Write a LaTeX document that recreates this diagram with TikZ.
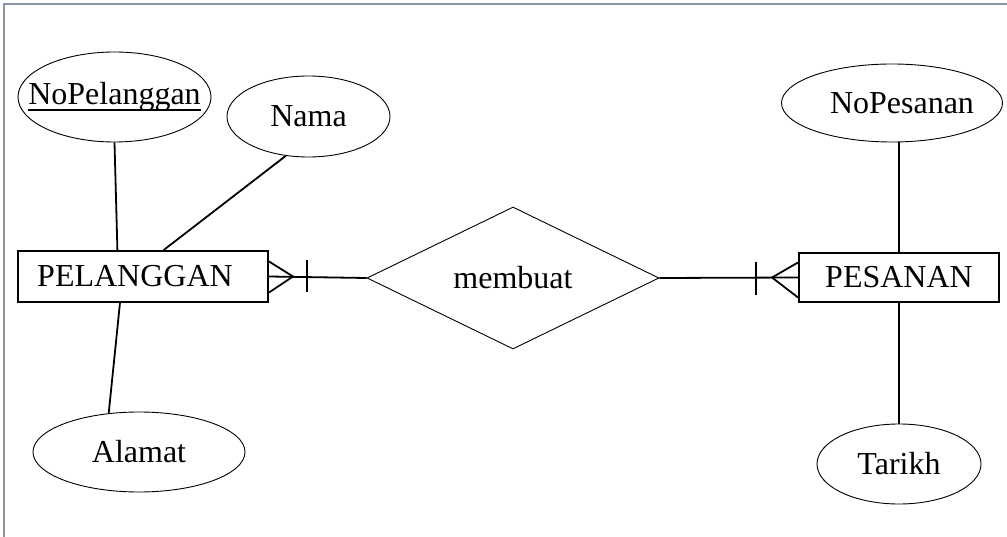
\documentclass[tikz,border=0pt]{standalone}
\usepackage{fontspec}
\setmainfont{Liberation Serif}
\usetikzlibrary{shapes.geometric}
\definecolor{framegray}{RGB}{140,150,163}
\newcommand{\ztext}[1]{\makebox[0pt]{#1}}
\tikzset{
  every node/.style={font=\fontsize{32}{38}\selectfont},
  attr/.style={ellipse, draw, line width=0.9pt, inner sep=0pt},
  entity/.style={rectangle, draw, line width=2pt, inner sep=0pt},
  rel/.style={diamond, draw, line width=0.9pt, inner sep=0pt, minimum width=292pt, minimum height=142pt},
  conn/.style={line width=1.8pt},
}
\begin{document}
\begin{tikzpicture}[x=1pt,y=-1pt]
\useasboundingbox (0,0) rectangle (1007,537);
\draw[framegray, line width=1.5pt] (4,537) -- (4,4) -- (1007,4);

% entities and relationship
\node[entity, minimum width=250pt, minimum height=51pt] (pel) at (143,276.5) {PELANGGAN\hspace*{16pt}};
\node[entity, minimum width=200pt, minimum height=49pt] (pes) at (899,277.5) {PESANAN};
\node[rel] (rel) at (513,278) {\ztext{membuat}};

% attributes
\node[attr, minimum width=193pt, minimum height=90pt] (nopel) at (114.5,97)
  {\ztext{\setbox0\hbox{NoPelanggan}\rlap{\rule[-6pt]{\wd0}{2pt}}\box0}};
\node[attr, minimum width=163pt, minimum height=81pt] (nama) at (308.5,116.5) {\ztext{Nama}};
\node[attr, minimum width=212pt, minimum height=80pt] (alamat) at (139,452) {\ztext{Alamat}};
\node[attr, minimum width=221pt, minimum height=78pt] (nopes) at (892,103) {\ztext{\hspace*{20pt}NoPesanan}};
\node[attr, minimum width=164pt, minimum height=80pt] (tarikh) at (899,464) {\ztext{Tarikh}};

% attribute connectors
\draw[conn] (nopel.south) -- (pel.134);
\draw[conn] (nama.240) -- (pel.52);
\draw[conn] (pel.229) -- (alamat.128);
\draw[conn] (nopes.south -| pes.north) -- (pes.north);
\draw[conn] (pes.south) -- (tarikh.north);

% relationship connectors
\draw[conn] (pel.east) -- (rel.west);
\draw[conn] ([yshift=15pt]pel.east) -- ([xshift=24pt]pel.east) -- ([yshift=-16pt]pel.east);
\draw[conn] ([xshift=38pt,yshift=16pt]pel.east) -- ([xshift=38pt,yshift=-16pt]pel.east);

\draw[conn] (rel.east) -- (pes.west);
\draw[conn] ([yshift=15pt]pes.west) -- ([xshift=-26pt]pes.west) -- ([yshift=-20pt]pes.west);
\draw[conn] ([xshift=-42pt,yshift=15pt]pes.west) -- ([xshift=-42pt,yshift=-18pt]pes.west);
\end{tikzpicture}
\end{document}
